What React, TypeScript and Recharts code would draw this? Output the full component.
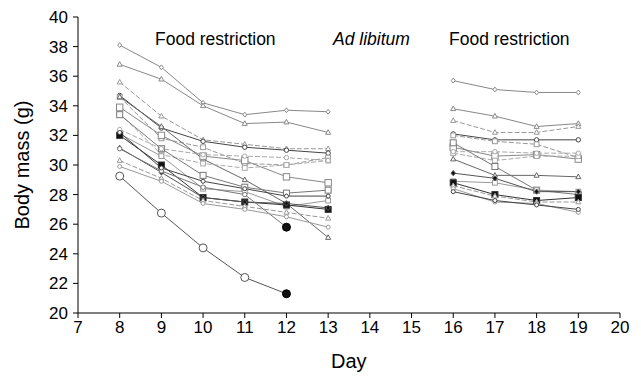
import React from 'react';
import { LineChart, Line, XAxis, YAxis } from 'recharts';

// day 14 is an empty row so the lines break during ad libitum feeding
const DAYS = [8, 9, 10, 11, 12, 13, 14, 16, 17, 18, 19];
const X_TICKS = [7, 8, 9, 10, 11, 12, 13, 14, 15, 16, 17, 18, 19, 20];
const Y_TICKS = [20, 22, 24, 26, 28, 30, 32, 34, 36, 38, 40];

const mouseA = [38.1, 36.6, 34.2, 33.4, 33.7, 33.6, null, 35.7, 35.1, 34.9, 34.9];
const mouseB = [36.8, 35.8, 34.0, 32.8, 32.9, 32.2, null, 33.8, 33.3, 32.6, 32.8];
const mouseC = [35.6, 33.3, 31.7, 31.4, 31.1, 31.1, null, 33.0, 32.2, 32.2, 32.6];
const mouseD = [34.7, 32.5, 31.6, 31.2, 31.0, 30.8, null, 32.1, 31.7, 31.7, 31.7];
const mouseE = [34.6, 31.8, 31.2, 30.1, 30.0, 30.5, null, 32.0, 31.6, 31.4, 30.5];
const mouseF = [34.6, 32.6, 30.4, 29.0, 27.4, 25.1, null, 30.4, 29.3, 29.3, 29.2];
const mouseG = [33.9, 32.0, 30.6, 30.3, 29.2, 28.8, null, 31.2, 30.6, 30.7, 30.4];
const mouseH = [33.5, 30.7, 30.1, 29.8, 30.0, 30.3, null, 30.8, 30.3, 30.6, 30.6];
const mouseI = [33.4, 31.1, 29.3, 28.5, 28.1, 28.3, null, 31.5, 29.9, 28.3, 28.0];
const mouseJ = [32.4, 31.1, 30.7, 30.6, 30.5, 30.3, null, 30.9, 30.9, 30.8, 30.8];
const mouseK = [32.1, 30.6, 28.4, 28.2, 27.2, 27.6, null, 28.9, 28.8, 28.3, 28.2];
const mouseL = [32.0, 30.0, 27.8, 27.5, 27.3, 27.0, null, 28.8, 28.0, 27.6, 27.8];
const mouseM = [31.15, 29.5, 27.8, 27.5, 27.4, 27.1, null, 29.45, 29.1, 28.2, 28.2];
const mouseN = [31.1, 29.6, 28.5, 28.0, 25.8, null, null, null, null, null, null];
const mouseO = [30.3, 29.1, 27.6, 27.2, 26.8, 26.4, null, 28.6, 27.9, 27.5, 27.5];
const mouseP = [29.9, 28.9, 27.4, 27.0, 26.5, 25.8, null, 28.4, 27.5, 27.4, 26.8];
const mouseQ = [29.25, 26.75, 24.4, 22.4, 21.3, null, null, null, null, null, null];
const mouseR = [32.2, 29.8, 28.9, 28.4, 27.9, 27.9, null, 28.2, 27.6, 27.3, 27.0];

const MICE = [
  { key: 'a', values: mouseA, shape: 'diamond', stroke: '#888', r: 2 },
  { key: 'b', values: mouseB, shape: 'triangle', stroke: '#888', r: 2.3 },
  { key: 'c', values: mouseC, shape: 'triangle', stroke: '#999', r: 2.3, dash: '5 2' },
  { key: 'd', values: mouseD, shape: 'circle', stroke: '#444', r: 2.2 },
  { key: 'e', values: mouseE, shape: 'square', stroke: '#999', r: 2.4, dash: '5 2' },
  { key: 'f', values: mouseF, shape: 'triangle', stroke: '#666', r: 2.3 },
  { key: 'g', values: mouseG, shape: 'square', stroke: '#888', r: 3.2 },
  { key: 'h', values: mouseH, shape: 'square', stroke: '#aaa', r: 2.4, dash: '5 2' },
  { key: 'i', values: mouseI, shape: 'square', stroke: '#777', r: 3 },
  { key: 'j', values: mouseJ, shape: 'circle', stroke: '#aaa', r: 2.2, dash: '5 2' },
  { key: 'k', values: mouseK, shape: 'square', stroke: '#999', r: 2.4 },
  { key: 'l', values: mouseL, shape: 'square', stroke: '#333', r: 3, filled: true },
  { key: 'm', values: mouseM, shape: 'diamond', stroke: '#555', r: 2.2, filled: true },
  { key: 'n', values: mouseN, shape: 'circle', stroke: '#777', r: 2.2, endFilled: true },
  { key: 'o', values: mouseO, shape: 'triangle', stroke: '#999', r: 2.3, dash: '5 2' },
  { key: 'p', values: mouseP, shape: 'circle', stroke: '#999', r: 2 },
  { key: 'q', values: mouseQ, shape: 'circle', stroke: '#555', r: 4, endFilled: true },
  { key: 'r', values: mouseR, shape: 'circle', stroke: '#444', r: 2 },
];

const data = DAYS.map((day, i) => {
  const row: any = { day };
  MICE.forEach((m) => { row[m.key] = m.values[i]; });
  return row;
});

const FONT = '"Liberation Sans", Arial, Helvetica, sans-serif';

const Marker = (p: any) => {
  const { cx, cy, shape, r, stroke, fill } = p;
  if (cx == null || cy == null || p.value == null) return null;
  if (shape === 'circle') return <circle cx={cx} cy={cy} r={r} fill={fill} stroke={stroke} strokeWidth={1} />;
  if (shape === 'square') return <rect x={cx - r} y={cy - r} width={r * 2} height={r * 2} fill={fill} stroke={stroke} strokeWidth={1} />;
  if (shape === 'triangle') {
    const pts = `${cx},${cy - r * 1.2} ${cx - r * 1.1},${cy + r * 0.8} ${cx + r * 1.1},${cy + r * 0.8}`;
    return <polygon points={pts} fill={fill} stroke={stroke} strokeWidth={1} />;
  }
  const pts = `${cx},${cy - r * 1.2} ${cx + r},${cy} ${cx},${cy + r * 1.2} ${cx - r},${cy}`;
  return <polygon points={pts} fill={fill} stroke={stroke} strokeWidth={1} />;
};

const lastIndex = (vals: (number | null)[]) => {
  let last = -1;
  vals.forEach((v, i) => { if (v != null) last = i; });
  return last;
};

const App = () => {
  const textStyle: React.CSSProperties = { position: 'absolute', fontFamily: FONT, color: '#000', whiteSpace: 'nowrap' };
  return (
    <div style={{ position: 'absolute', left: 0, top: 0, width: 641, height: 376, background: '#fff' }}>
      <LineChart width={641} height={376} data={data} margin={{ top: 17, right: 21, bottom: 33, left: 28 }}>
        <XAxis
          dataKey="day"
          type="number"
          domain={[7, 20]}
          ticks={X_TICKS}
          interval={0}
          stroke="#000"
          tickSize={5}
          tickMargin={3}
          height={30}
          tick={{ fill: '#000', fontSize: 17, fontFamily: FONT }}
        />
        <XAxis xAxisId="top" orientation="top" dataKey="day" type="number" domain={[7, 20]} stroke="#000" tick={false} tickLine={false} height={0} />
        <YAxis
          type="number"
          domain={[20, 40]}
          ticks={Y_TICKS}
          interval={0}
          stroke="#000"
          tickSize={5}
          tickMargin={5}
          width={50}
          tick={{ fill: '#000', fontSize: 17, fontFamily: FONT }}
        />
        <YAxis yAxisId="right" orientation="right" domain={[20, 40]} stroke="#000" tick={false} tickLine={false} width={0} />
        {MICE.map((m) => {
          const end = lastIndex(m.values);
          return (
            <Line
              key={m.key}
              dataKey={m.key}
              stroke={m.stroke}
              strokeWidth={1}
              strokeDasharray={m.dash}
              connectNulls={false}
              isAnimationActive={false}
              dot={(p: any) => {
                const endDot = m.endFilled && p.index === end;
                return (
                  <Marker
                    key={`${m.key}-${p.index}`}
                    cx={p.cx}
                    cy={p.cy}
                    value={p.value}
                    shape={m.shape}
                    r={endDot ? 4 : m.r}
                    stroke={endDot ? '#000' : m.stroke}
                    fill={endDot || m.filled ? '#111' : '#fff'}
                  />
                );
              }}
              activeDot={false}
            />
          );
        })}
      </LineChart>
      <div style={{ ...textStyle, left: 155, top: 29, fontSize: 17.5 }}>Food restriction</div>
      <div style={{ ...textStyle, left: 333, top: 29, fontSize: 17.5, fontStyle: 'italic' }}>Ad libitum</div>
      <div style={{ ...textStyle, left: 449, top: 29, fontSize: 17.5 }}>Food restriction</div>
      <div style={{ ...textStyle, left: 331, top: 350, fontSize: 20 }}>Day</div>
      <div
        style={{
          ...textStyle,
          left: 22,
          top: 165,
          fontSize: 20,
          transform: 'translate(-50%, -50%) rotate(-90deg)',
        }}
      >
        Body mass (g)
      </div>
    </div>
  );
};

export default App;
